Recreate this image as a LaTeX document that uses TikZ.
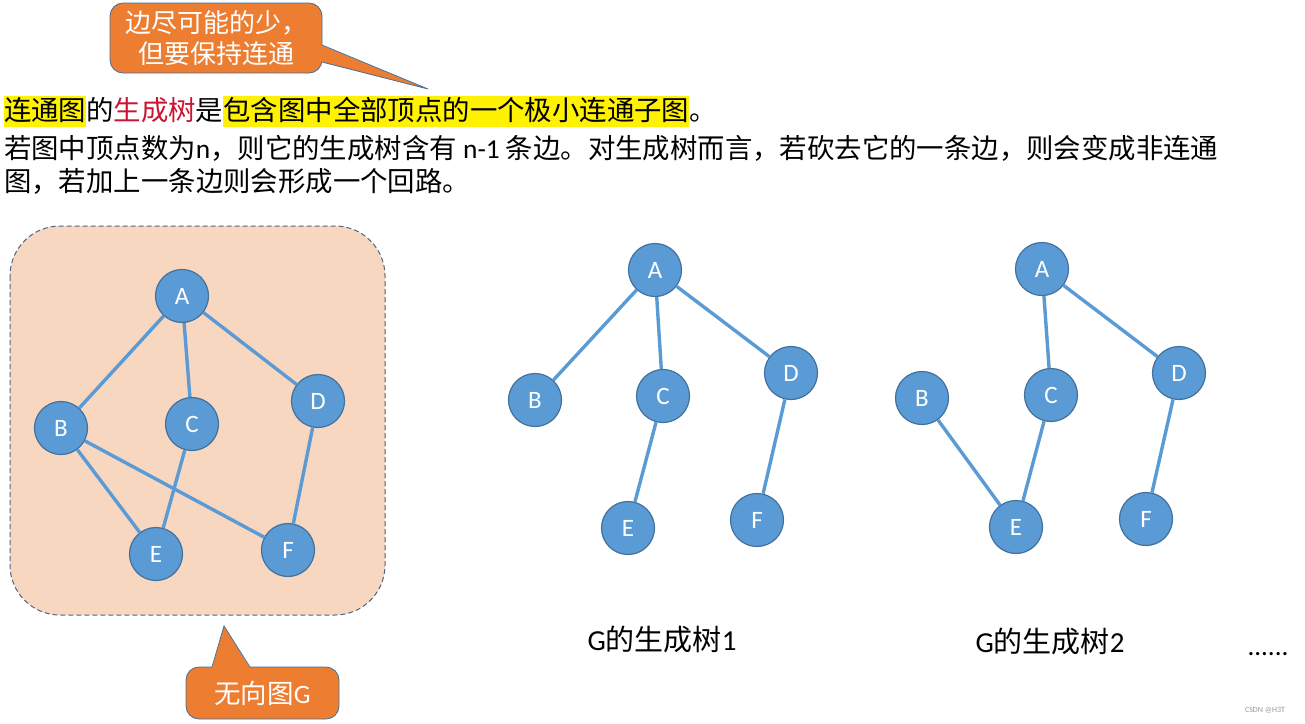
\documentclass[tikz,border=0pt]{standalone}
\usepackage{fontspec}
\setmainfont{Noto Sans CJK SC}
\newfontfamily\latin{Carlito}

\definecolor{vertexblue}{RGB}{91,155,213}
\definecolor{vertexrim}{RGB}{65,113,156}
\definecolor{calloutorange}{RGB}{237,125,49}
\definecolor{panelpeach}{RGB}{248,215,192}
\definecolor{panelrim}{RGB}{80,100,130}
\definecolor{treered}{RGB}{204,20,50}

\newcommand{\hilite}[1]{{\setlength{\fboxsep}{0pt}\colorbox{yellow}{\rule[-7pt]{0pt}{31pt}#1}}}

\begin{document}
\begin{tikzpicture}[x=1pt, y=-1pt,
  vertex/.style={circle, fill=vertexblue, draw=vertexrim, line width=1.2pt,
    minimum size=53pt, inner sep=0pt, text=white,
    font=\latin\fontsize{25}{25}\selectfont},
  tedge/.style={draw=vertexblue, line width=3.4pt},
  bodytext/.style={anchor=base west, inner sep=0pt,
    font=\fontsize{27.4}{32}\selectfont},
  calloutbox/.style={fill=calloutorange, draw=vertexrim, line width=0.8pt,
    rounded corners=13pt, text=white, align=center, inner sep=0pt},
  caption/.style={inner sep=0pt, font=\fontsize{29}{29}\selectfont}]
  \useasboundingbox (0,0) rectangle (1305,723);

  % callout at the top
  \node[calloutbox, minimum width=212pt, minimum height=70pt,
    font=\fontsize{26}{31}\selectfont] (tipedges) at (216,38)
    {边尽可能的少，\\但要保持连通};
  \fill[calloutorange] (321,45) -- (428,89) -- (321,62) -- cycle;
  \draw[vertexrim, line width=0.8pt] (322,45) -- (428,89) -- (322,62);

  % definition text
  \node[bodytext] (line1) at (4,120)
    {\hilite{连通图}的\textcolor{treered}{生成树}是\hilite{包含图中全部顶点的一个极小连通子图}。};
  \node[bodytext] (line2) at (4,158)
    {若图中顶点数为{\latin n}，则它的生成树含有 {\latin n-1} 条边。对生成树而言，若砍去它的一条边，则会变成非连通};
  \node[bodytext] (line3) at (4,191) {图，若加上一条边则会形成一个回路。};

  % undirected graph G
  \draw[panelrim, fill=panelpeach, dash pattern=on 5pt off 3pt, line width=1pt,
    rounded corners=50pt] (10,226) rectangle (385,615);
  \node[vertex] (gA) at (182,296) {A};
  \node[vertex] (gB) at (61,428) {B};
  \node[vertex] (gC) at (192,424) {C};
  \node[vertex] (gD) at (318,401) {D};
  \node[vertex] (gE) at (156,554) {E};
  \node[vertex] (gF) at (288,550) {F};
  \draw[tedge] (gA) -- (gB);
  \draw[tedge] (gA) -- (gC);
  \draw[tedge] (gA) -- (gD);
  \draw[tedge] (gB) -- (gE);
  \draw[tedge] (gB) -- (gF);
  \draw[tedge] (gC) -- (gE);
  \draw[tedge] (gD) -- (gF);

  % callout at the bottom
  \node[calloutbox, minimum width=153pt, minimum height=52pt,
    font=\fontsize{26.5}{26.5}\selectfont] (tipgraph) at (262.5,693) {无向图{\latin G}};
  \fill[calloutorange] (212,668) -- (224,626) -- (250,668) -- cycle;
  \draw[vertexrim, line width=0.8pt] (212,667) -- (224,626) -- (250,667);

  % spanning tree 1
  \node[vertex] (oA) at (655,270) {A};
  \node[vertex] (oB) at (535,400) {B};
  \node[vertex] (oC) at (663,396) {C};
  \node[vertex] (oD) at (791,373) {D};
  \node[vertex] (oE) at (628,528) {E};
  \node[vertex] (oF) at (757,520) {F};
  \draw[tedge] (oA) -- (oB);
  \draw[tedge] (oA) -- (oC);
  \draw[tedge] (oA) -- (oD);
  \draw[tedge] (oC) -- (oE);
  \draw[tedge] (oD) -- (oF);
  \node[caption] (cap1) at (662,640) {{\latin G}的生成树{\latin 1}};

  % spanning tree 2
  \node[vertex] (sA) at (1042,269) {A};
  \node[vertex] (sB) at (922,398) {B};
  \node[vertex] (sC) at (1051,395) {C};
  \node[vertex] (sD) at (1179,373) {D};
  \node[vertex] (sE) at (1016,527) {E};
  \node[vertex] (sF) at (1146,519) {F};
  \draw[tedge] (sA) -- (sC);
  \draw[tedge] (sA) -- (sD);
  \draw[tedge] (sB) -- (sE);
  \draw[tedge] (sC) -- (sE);
  \draw[tedge] (sD) -- (sF);
  \node[caption] (cap2) at (1050,642) {{\latin G}的生成树{\latin 2}};

  \node[caption, anchor=base, font=\latin\fontsize{27}{27}\selectfont] (more) at (1268,655) {......};
  \node[inner sep=0pt, text=black!40, font=\latin\fontsize{8}{8}\selectfont] (mark) at (1265,710) {CSDN @H3T};
\end{tikzpicture}
\end{document}
